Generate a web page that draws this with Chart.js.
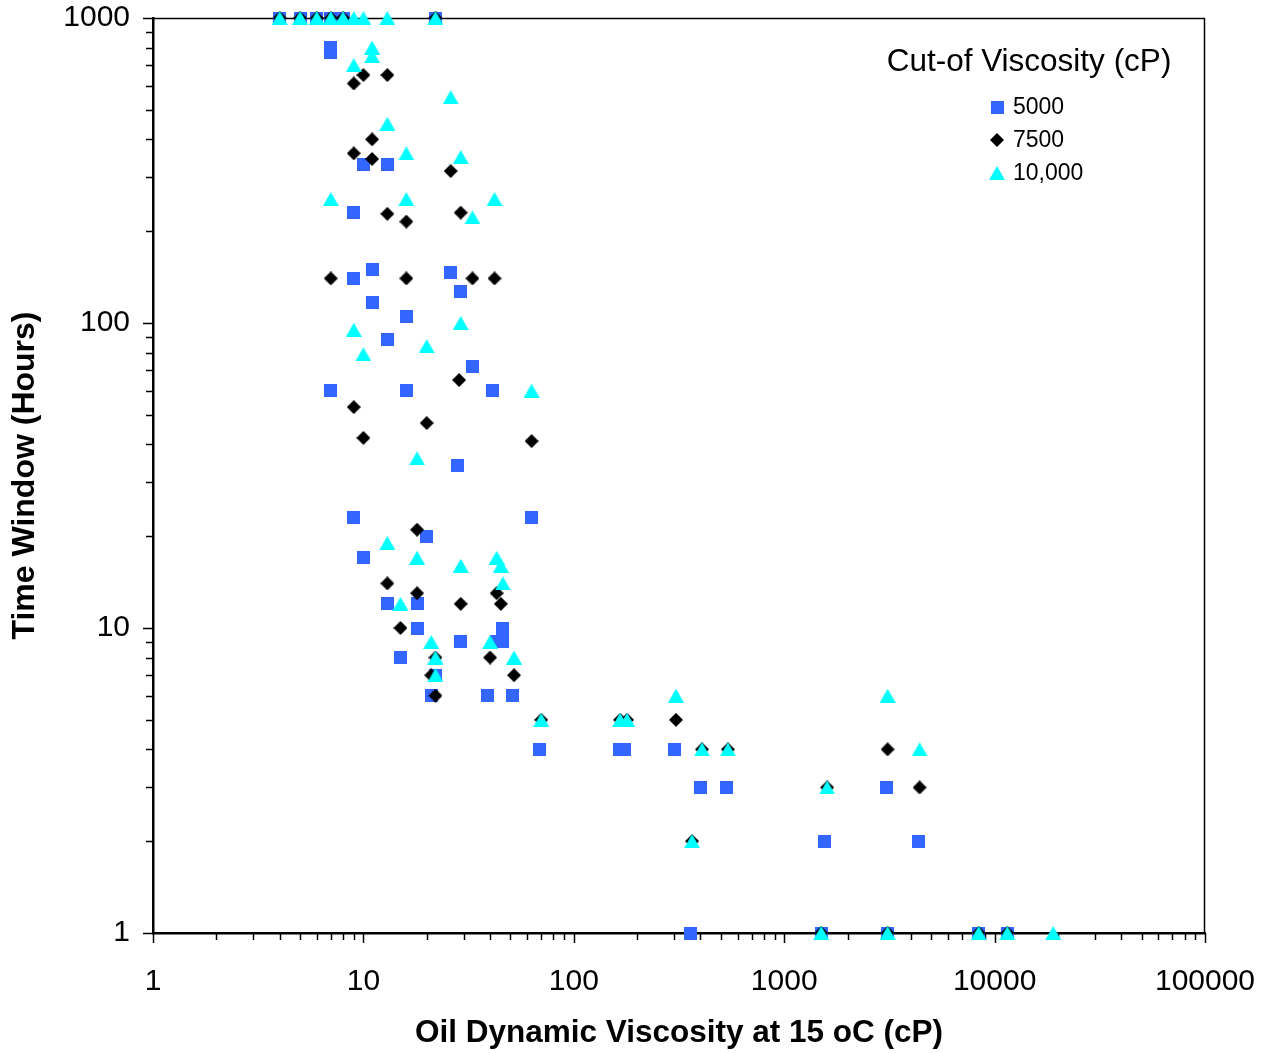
<!DOCTYPE html>
<html>
<head>
<meta charset="utf-8">
<script src="https://cdn.jsdelivr.net/npm/chart.js@4.4.0/dist/chart.umd.min.js"></script>
<style>
  html, body { margin: 0; padding: 0; background: #ffffff; }
</style>
</head>
<body>
<canvas id="viscChart" width="1269" height="1053"></canvas>
<script>
//----- DATA -----//
// cut-off viscosity 5000 cP
const visc5000 = [4, 5, 6, 7, 8, 22, 7, 7, 10, 13, 9, 9, 11, 26, 29, 11, 16, 13, 33, 7, 16, 41, 28, 9, 63,
  20, 10, 13, 18, 18, 46, 29, 43, 46, 15, 22, 21, 39, 51, 69, 165, 175, 300, 400, 530, 1560, 3050, 4350,
  360, 1500, 3100, 8400, 11500];
const hours5000 = [1000, 1000, 1000, 1000, 1000, 1000, 800, 770, 330, 330, 230, 140, 150, 146, 127, 117, 105, 88, 72, 60, 60, 60, 34, 23, 23,
  20, 17, 12, 12, 10, 10, 9, 9, 9, 8, 7, 6, 6, 6, 4, 4, 4, 4, 3, 3, 2, 3, 2,
  1, 1, 1, 1, 1];

// cut-off viscosity 7500 cP
const visc7500 = [4, 5, 6, 7, 8, 22, 10, 13, 9, 11, 9, 11, 26, 13, 29, 16, 7, 16, 33, 42, 28.5, 9, 20, 10, 63,
  18, 13, 18, 43, 29, 45, 15, 22, 40, 21, 52, 22, 70, 166, 179, 306, 407, 540, 365, 1600, 3100, 4400,
  1500, 3100, 8400, 11500];
const hours7500 = [1000, 1000, 1000, 1000, 1000, 1000, 650, 650, 610, 400, 360, 345, 315, 228, 230, 215, 140, 140, 140, 140, 65, 53, 47, 42, 41,
  21, 14, 13, 13, 12, 12, 10, 8, 8, 7, 7, 6, 5, 5, 5, 5, 4, 4, 2, 3, 4, 3,
  1, 1, 1, 1];

// cut-off viscosity 10,000 cP
const visc10000 = [4, 5, 6, 7, 8, 9, 10, 13, 22, 11, 11, 9, 26, 13, 16, 29, 7, 16, 42, 33, 29, 9, 20, 10, 63, 18,
  13, 18, 29, 43, 45, 46, 15, 21, 40, 22, 52, 22, 70, 166, 179, 306, 407, 540, 365, 1600, 3100, 4400,
  1500, 3100, 8400, 11500, 19000];
const hours10000 = [1000, 1000, 1000, 1000, 1000, 1000, 1000, 1000, 1000, 800, 750, 700, 550, 450, 360, 350, 255, 255, 255, 222, 100, 95, 84, 79, 60, 36,
  19, 17, 16, 17, 16, 14, 12, 9, 9, 8, 8, 7, 5, 5, 5, 6, 4, 4, 2, 3, 6, 4,
  1, 1, 1, 1, 1];

const seriesNames = ['5000', '7500', '10,000'];
const xTickLabels = [1, 10, 100, 1000, 10000, 100000];
const yTickLabels = [1, 10, 100, 1000];

//----- SETUP -----//
const FONT = '"Liberation Sans", Arial, sans-serif';
const toPoints = (xs, ys) => xs.map((v, i) => ({ x: v, y: ys[i] }));

// marker sprites, centred on their bounding box like the Excel markers
function makeMarker(shape, w, h, color) {
  const c = document.createElement('canvas');
  c.width = w; c.height = h;
  const g = c.getContext('2d');
  g.fillStyle = color;
  g.beginPath();
  if (shape === 'square') {
    g.rect(0, 0, w, h);
  } else if (shape === 'diamond') {
    g.moveTo(w / 2, 0); g.lineTo(w, h / 2); g.lineTo(w / 2, h); g.lineTo(0, h / 2);
  } else {
    g.moveTo(w / 2, 0); g.lineTo(w, h); g.lineTo(0, h);
  }
  g.closePath();
  g.fill();
  return c;
}

const markers = [
  makeMarker('square', 13, 13, '#3366ff'),
  makeMarker('diamond', 14, 14, '#000000'),
  makeMarker('triangle', 16, 14, '#00ffff')
];
const drawOrder = [3, 2, 1]; // triangles on top, squares underneath

const data = {
  datasets: [toPoints(visc5000, hours5000), toPoints(visc7500, hours7500), toPoints(visc10000, hours10000)]
    .map((pts, i) => ({
      label: seriesNames[i],
      data: pts,
      pointStyle: markers[i],
      pointRadius: 8,
      pointHoverRadius: 8,
      order: drawOrder[i],
      clip: false
    }))
};

// frame on top/right + log tick marks + legend box
const frameTicks = {
  id: 'frameTicks',
  beforeDatasetsDraw(chart) {
    const { ctx, chartArea: a, scales: { x, y } } = chart;
    ctx.save();
    ctx.strokeStyle = '#000';
    ctx.lineWidth = 1.5;
    ctx.beginPath();
    ctx.moveTo(a.left, a.top + 0.5); ctx.lineTo(a.right, a.top + 0.5);
    ctx.moveTo(a.right - 0.5, a.top); ctx.lineTo(a.right - 0.5, a.bottom);
    ctx.stroke();

    ctx.beginPath();
    for (let d = 1; d <= 100000; d *= 10) {
      for (let m = 1; m <= 9; m++) {
        const v = d * m;
        if (v > 100000) break;
        const len = m === 1 ? 10 : 7;
        const px = Math.round(x.getPixelForValue(v)) + 0.5;
        ctx.moveTo(px, a.bottom); ctx.lineTo(px, a.bottom + len);
        if (v <= 1000) {
          const py = Math.round(y.getPixelForValue(v)) + 0.5;
          ctx.moveTo(a.left, py); ctx.lineTo(a.left - len, py);
        }
      }
    }
    ctx.stroke();
    ctx.restore();
  },
  afterDraw(chart) {
    const { ctx, chartArea: a } = chart;
    ctx.save();
    ctx.fillStyle = '#000';
    ctx.textBaseline = 'middle';
    ctx.textAlign = 'center';
    ctx.font = '31.5px ' + FONT;
    ctx.fillText('Cut-of Viscosity (cP)', a.right - 176, 62);
    ctx.font = '23px ' + FONT;
    ctx.textAlign = 'left';
    seriesNames.forEach((name, i) => {
      const yy = 107 + i * 33;
      const m = markers[i];
      ctx.drawImage(m, Math.round(a.right - 208 - m.width / 2), Math.round(yy - m.height / 2));
      ctx.fillText(name, a.right - 192, yy + 1);
    });
    ctx.restore();
  }
};

//----- CONFIG -----//
const config = {
  type: 'scatter',
  data: data,
  options: {
    responsive: false,
    animation: false,
    events: [],
    layout: { padding: { top: 18, right: 64, left: 0, bottom: 0 } },
    plugins: { legend: { display: false }, tooltip: { enabled: false } },
    scales: {
      x: {
        type: 'logarithmic',
        min: 1,
        max: 100000,
        grid: { display: false, drawTicks: false },
        border: { display: true, color: '#000', width: 2.5 },
        afterBuildTicks: s => { s.ticks = xTickLabels.map(v => ({ value: v })); },
        afterFit: s => { s.height = 120; s.paddingLeft = 0; s.paddingRight = 0; },
        ticks: {
          autoSkip: false,
          maxRotation: 0,
          padding: 31,
          color: '#000',
          font: { family: FONT, size: 30 },
          callback: v => String(v)
        },
        title: {
          display: true,
          text: 'Oil Dynamic Viscosity at 15 oC (cP)',
          color: '#000',
          font: { family: FONT, size: 31.5, weight: 'bold' },
          padding: { top: 0, bottom: 1 }
        }
      },
      y: {
        type: 'logarithmic',
        min: 1,
        max: 1000,
        grid: { display: false, drawTicks: false },
        border: { display: true, color: '#000', width: 2.5 },
        afterBuildTicks: s => { s.ticks = yTickLabels.map(v => ({ value: v })); },
        afterFit: s => { s.width = 153; s.paddingTop = 0; s.paddingBottom = 0; },
        ticks: {
          autoSkip: false,
          padding: 23,
          color: '#000',
          font: { family: FONT, size: 30 },
          callback: v => String(v)
        },
        title: {
          display: true,
          text: 'Time Window (Hours)',
          color: '#000',
          font: { family: FONT, size: 32, weight: 'bold' },
          padding: { top: 6, bottom: 0 }
        }
      }
    }
  },
  plugins: [frameTicks]
};

//----- RENDER -----//
const viscChart = new Chart(document.getElementById('viscChart'), config);
</script>
</body>
</html>
